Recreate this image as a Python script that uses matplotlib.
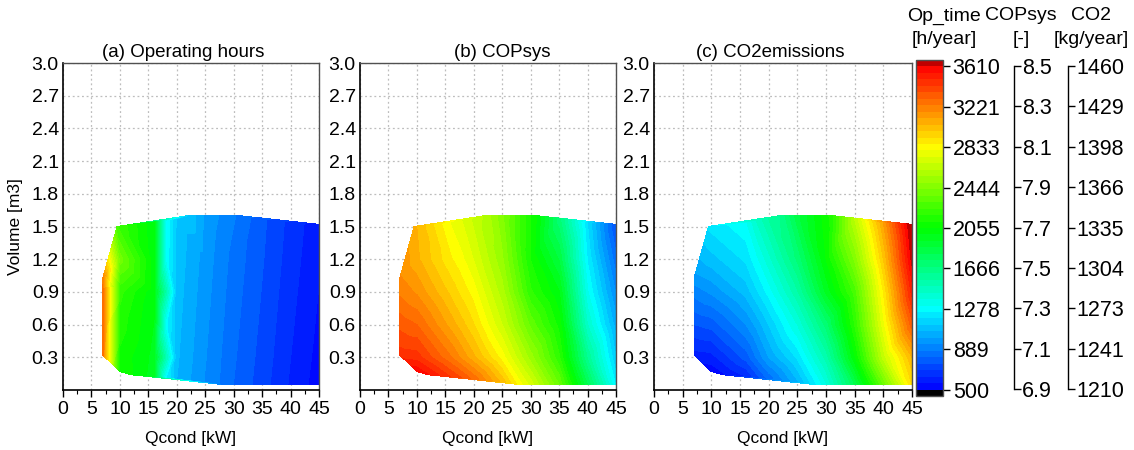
import numpy as np
import matplotlib
matplotlib.use('Agg')
import matplotlib.pyplot as plt
import matplotlib.tri as mtri
from matplotlib.colors import LinearSegmentedColormap

plt.rcParams['font.family'] = ['Liberation Sans', 'DejaVu Sans']

# ---------------- data ----------------
q_kw = [7, 7, 7, 7,
        9.5,
        10, 10, 10, 10, 10,
        12,
        16, 16, 16, 16, 16, 16,
        18, 18, 18, 18,
        20, 20, 20, 20, 20, 20,
        22,
        25, 25, 25, 25, 25, 25,
        28,
        30, 30, 30, 30, 30,
        31,
        35, 35, 35, 35, 35, 35,
        40, 40, 40, 40, 40, 40,
        45, 45, 45, 45, 45, 45]
vol_m3 = [0.32, 0.6, 0.9, 1.03,
          1.5,
          0.17, 0.3, 0.6, 0.9, 1.2,
          0.14,
          0.125, 0.3, 0.6, 0.9, 1.2, 1.54,
          0.11, 0.6, 1.2, 1.56,
          0.10, 0.3, 0.6, 0.9, 1.2, 1.57,
          1.6,
          0.075, 0.3, 0.6, 0.9, 1.2, 1.6,
          0.05,
          0.05, 0.3, 0.6, 0.9, 1.2,
          1.6,
          0.05, 0.3, 0.6, 0.9, 1.2, 1.57,
          0.05, 0.3, 0.6, 0.9, 1.2, 1.54,
          0.05, 0.3, 0.6, 0.9, 1.2, 1.52]
op_hours = [3250, 3260, 3260, 3220,
            2250,
            2080, 2100, 2150, 2200, 2400,
            2060,
            1960, 1970, 1990, 2010, 2020, 2000,
            1270, 1290, 1310, 1320,
            1060, 1070, 1080, 1090, 1100, 1110,
            1120,
            930, 940, 950, 960, 970, 985,
            860,
            810, 820, 830, 840, 850, 860,
            715, 725, 735, 745, 755, 765,
            615, 625, 635, 645, 655, 665,
            530, 540, 550, 560, 570, 580]
cop_sys = [8.42, 8.36, 8.30, 8.28,
           8.22,
           8.49, 8.42, 8.34, 8.27, 8.22,
           8.47,
           8.40, 8.31, 8.23, 8.17, 8.12, 8.08,
           8.37, 8.19, 8.09, 8.05,
           8.33, 8.22, 8.15, 8.10, 8.05, 8.01,
           7.98,
           8.20, 8.10, 8.02, 7.97, 7.93, 7.90,
           8.10,
           8.04, 7.94, 7.85, 7.77, 7.73,
           7.70,
           7.86, 7.77, 7.72, 7.67, 7.60, 7.52,
           7.57, 7.47, 7.38, 7.32, 7.28, 7.25,
           7.28, 7.22, 7.17, 7.12, 7.07, 7.02]
co2_kg = [1218, 1230, 1242, 1248,
          1266,
          1212, 1218, 1232, 1246, 1258,
          1214,
          1220, 1232, 1245, 1257, 1266, 1274,
          1228, 1252, 1274, 1286,
          1236, 1250, 1260, 1272, 1283, 1295,
          1300,
          1254, 1266, 1280, 1294, 1306, 1318,
          1268,
          1279, 1292, 1307, 1326, 1335,
          1342,
          1315, 1334, 1345, 1352, 1366, 1380,
          1360, 1382, 1393, 1400, 1410, 1420,
          1405, 1415, 1438, 1452, 1462, 1468]

op_range = (500, 3610)
cop_range = (6.9, 8.5)
co2_range = (1210, 1460)
op_ticklabels = ['500', '889', '1278', '1666', '2055', '2444', '2833', '3221', '3610']
cop_ticklabels = ['6.9', '7.1', '7.3', '7.5', '7.7', '7.9', '8.1', '8.3', '8.5']
co2_ticklabels = ['1210', '1241', '1273', '1304', '1335', '1366', '1398', '1429', '1460']
x_ticks = [0, 5, 10, 15, 20, 25, 30, 35, 40, 45]
y_ticks = [0.3, 0.6, 0.9, 1.2, 1.5, 1.8, 2.1, 2.4, 2.7, 3.0]
titles = ['(a) Operating hours', '(b) COPsys', '(c) CO2emissions']
n_bands = 50

# ---------------- figure ----------------
W, H = 1134, 450
fig = plt.figure(figsize=(W / 100, H / 100), dpi=100)

cmap = LinearSegmentedColormap.from_list(
    'bcgyr', ['#0000ff', '#00ffff', '#00ff00', '#ffff00', '#ff0000'])
cmap.set_under('#000000')
cmap.set_over('#c00000')

q = np.array(q_kw, float)
v = np.array(vol_m3, float)
tri0 = mtri.Triangulation(q / 45.0, v / 1.6)
tri = mtri.Triangulation(q, v, tri0.triangles)

def fx(px):
    return px / W

def fy(py):
    return 1 - py / H

top_px, bot_px = 63, 390
panels = [(63, 319, op_hours, op_range, 0.47),
          (360, 616, cop_sys, cop_range, 0.555),
          (654, 912, co2_kg, co2_range, 0.45)]

cs_first = None
for i, (l, r, vals, rng, tx) in enumerate(panels):
    ax = fig.add_axes([fx(l), fy(bot_px), fx(r - l), (bot_px - top_px) / H])
    ax.set_axisbelow(True)
    levels = np.linspace(rng[0], rng[1], n_bands + 1)
    cs = ax.tricontourf(tri, np.array(vals, float), levels=levels, cmap=cmap,
                        extend='both', antialiased=False, zorder=2)
    if cs_first is None:
        cs_first = cs
    ax.set_xlim(0, 45)
    ax.set_ylim(0, 3.0)
    ax.set_xticks(x_ticks)
    ax.set_xticks(np.arange(2.5, 45, 5), minor=True)
    ax.set_yticks(y_ticks)
    ax.set_yticklabels([f'{t:.1f}' for t in y_ticks])
    ax.grid(True, which='major', color='#bdbdbd', linestyle=(0, (1.5, 2.2)),
            linewidth=0.9, zorder=0.5)
    ax.tick_params(axis='x', which='major', direction='out', length=5, width=1,
                   labelsize=14, pad=3)
    ax.tick_params(axis='x', which='minor', direction='out', length=3, width=0.8)
    ax.tick_params(axis='y', which='major', length=0, labelsize=14, pad=3)
    for s in ['left', 'bottom']:
        ax.spines[s].set_color('black')
        ax.spines[s].set_linewidth(1.2)
    for s in ['top', 'right']:
        ax.spines[s].set_color('#505050')
        ax.spines[s].set_linewidth(1.0)
    for s in ax.spines.values():
        s.set_zorder(3)
    ax.set_xlabel('Qcond [kW]', fontsize=12.5, labelpad=9)
    ax.set_title(titles[i], fontsize=13.5, x=tx, pad=4)
    if i == 0:
        ax.set_ylabel('Volume [m3]', fontsize=12.5, labelpad=6)

# colorbar
cax = fig.add_axes([fx(916), fy(396), fx(27), 336 / H])
cb = fig.colorbar(cs_first, cax=cax, extend='both', extendrect=True,
                  extendfrac=0.02, ticks=np.linspace(op_range[0], op_range[1], 9))
cb.set_ticklabels(op_ticklabels)
cb.ax.tick_params(direction='out', length=5, width=1, labelsize=15.5, pad=2)
cb.outline.set_edgecolor('#505050')
cb.outline.set_linewidth(1.0)

# secondary scales
for xpx, rng, labels in [(1014, cop_range, cop_ticklabels),
                         (1068, co2_range, co2_ticklabels)]:
    a = fig.add_axes([fx(xpx) - 0.0001, fy(389), 0.0001, (389 - 66) / H])
    a.set_ylim(rng)
    a.set_yticks(np.linspace(rng[0], rng[1], 9))
    a.set_yticklabels(labels)
    a.yaxis.tick_right()
    a.set_xticks([])
    for s in ['top', 'bottom', 'left']:
        a.spines[s].set_visible(False)
    a.spines['right'].set_color('black')
    a.spines['right'].set_linewidth(1.0)
    a.patch.set_visible(False)
    a.tick_params(axis='y', direction='out', length=5, width=1, labelsize=15.5, pad=1)

# headers
for xc, l1, l2 in [(944, 'Op_time', '[h/year]'), (1021, 'COPsys', '[-]'),
                   (1091, 'CO2', '[kg/year]')]:
    fig.text(fx(xc), fy(16), l1, ha='center', va='center', fontsize=14)
    fig.text(fx(xc), fy(40), l2, ha='center', va='center', fontsize=14)

fig.savefig('out.png', dpi=100)
